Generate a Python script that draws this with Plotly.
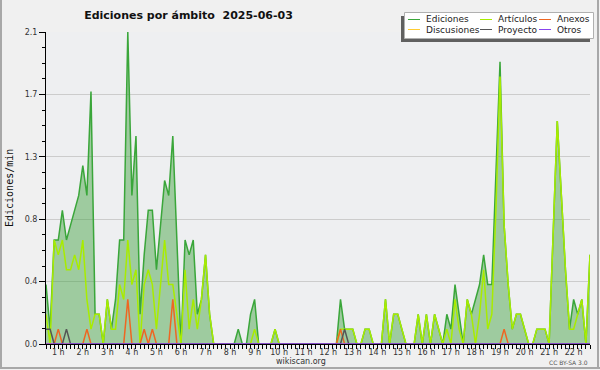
import plotly.graph_objects as go

# 10-minute bins, values in edits/min
ediciones = [0.4, 0.1, 0.7, 0.7, 0.9, 0.7, 0.8, 0.9, 1.0, 1.2, 1.0, 1.7, 0.2, 0.2, 0.0, 0.3,
             0.1, 0.3, 0.7, 0.7, 2.1, 1.0, 1.4, 0.2, 0.6, 0.9, 0.9, 0.5, 0.8, 1.1, 1.0, 1.4,
             0.7, 0.0, 0.7, 0.6, 0.7, 0.2, 0.3, 0.6, 0.2, 0.0, 0.0, 0.0, 0.0, 0.0, 0.0, 0.1,
             0.0, 0.0, 0.2, 0.3, 0.0, 0.0, 0.0, 0.0, 0.1, 0.0, 0.0, 0.0, 0.0, 0.0, 0.0, 0.0,
             0.0, 0.0, 0.0, 0.0, 0.0, 0.0, 0.0, 0.0, 0.3, 0.1, 0.1, 0.1, 0.0, 0.0, 0.1, 0.1,
             0.0, 0.0, 0.0, 0.3, 0.0, 0.2, 0.2, 0.1, 0.0, 0.0, 0.0, 0.2, 0.0, 0.2, 0.0, 0.2,
             0.1, 0.0, 0.2, 0.1, 0.4, 0.2, 0.0, 0.3, 0.2, 0.3, 0.4, 0.6, 0.4, 0.4, 1.1, 1.9,
             0.8, 0.4, 0.1, 0.2, 0.2, 0.1, 0.0, 0.0, 0.1, 0.1, 0.1, 0.0, 0.7, 1.5, 1.0, 0.5,
             0.1, 0.3, 0.2, 0.3, 0.0, 0.6]
articulos = [0.2, 0.0, 0.7, 0.6, 0.7, 0.5, 0.5, 0.6, 0.5, 0.7, 0.3, 0.1, 0.2, 0.2, 0.0, 0.3,
             0.1, 0.1, 0.4, 0.3, 0.7, 0.4, 0.5, 0.0, 0.4, 0.5, 0.4, 0.1, 0.4, 0.7, 0.4, 0.4,
             0.2, 0.0, 0.5, 0.1, 0.3, 0.1, 0.3, 0.6, 0.2, 0.0, 0.0, 0.0, 0.0, 0.0, 0.0, 0.0,
             0.0, 0.0, 0.0, 0.1, 0.0, 0.0, 0.0, 0.0, 0.1, 0.0, 0.0, 0.0, 0.0, 0.0, 0.0, 0.0,
             0.0, 0.0, 0.0, 0.0, 0.0, 0.0, 0.0, 0.0, 0.1, 0.1, 0.1, 0.1, 0.0, 0.0, 0.1, 0.1,
             0.0, 0.0, 0.0, 0.3, 0.0, 0.2, 0.2, 0.1, 0.0, 0.0, 0.0, 0.2, 0.0, 0.2, 0.0, 0.2,
             0.1, 0.0, 0.1, 0.0, 0.3, 0.1, 0.0, 0.3, 0.2, 0.0, 0.2, 0.5, 0.1, 0.2, 0.9, 1.8,
             0.8, 0.4, 0.1, 0.2, 0.2, 0.1, 0.0, 0.0, 0.1, 0.1, 0.1, 0.0, 0.7, 1.5, 1.0, 0.5,
             0.1, 0.1, 0.2, 0.3, 0.0, 0.6]
anexos = [0.0] * 134
for i, v in [(3, 0.1), (10, 0.1), (20, 0.3), (24, 0.1), (26, 0.1), (31, 0.3), (72, 0.1), (112, 0.1)]:
    anexos[i] = v
proyecto = [0.0] * 134
for i, v in [(0, 0.1), (1, 0.1), (5, 0.1), (73, 0.1)]:
    proyecto[i] = v
discusiones = [0.0] * 134
otros = [0.0] * 134

hours = [i / 6 for i in range(len(ediciones))]
hour_labels = [f"{h} h" for h in range(1, 23)]
hour_pos = [h - 0.5 for h in range(1, 23)]
y_ticks = [0, 0.42, 0.84, 1.26, 1.68, 2.1]
y_labels = ["0.0", "0.4", "0.8", "1.3", "1.7", "2.1"]

series = [
    ("Ediciones", ediciones, "#3aa63a"),
    ("Artículos", articulos, "#a8ec00"),
    ("Anexos", anexos, "#ee6622"),
    ("Discusiones", discusiones, "#ffcc33"),
    ("Proyecto", proyecto, "#555555"),
    ("Otros", otros, "#8844ee"),
]

fig = go.Figure()
fig.add_trace(go.Scatter(x=hours, y=ediciones, mode="lines", fill="tozeroy",
                         fillcolor="rgba(60,160,60,0.45)", line=dict(width=0),
                         showlegend=False, hoverinfo="skip"))
for name, vals, col in series:
    fig.add_trace(go.Scatter(x=hours, y=vals, mode="lines", name=name,
                             line=dict(color=col, width=1.5), showlegend=False))

W, H = 600, 370
L, R, T, B = 46, 10, 32, 26
pw, ph = W - L - R, H - T - B

def px(x):
    return (x - L) / pw

def py(y):
    return (H - B - y) / ph

shapes = []
annotations = []
# outer frame (left, right, bottom)
for x0, x1, y0, y1 in [(1, 1, -2, 369), (598, 598, -2, 369), (0, 600, 368, 368)]:
    shapes.append(dict(type="line", xref="paper", yref="paper", x0=px(x0), x1=px(x1), y0=py(y0), y1=py(y1),
                       line=dict(color="#a8a8a8", width=2), layer="above"))
# legend box with shadow
shapes.append(dict(type="rect", xref="paper", yref="paper", x0=px(401), x1=px(590), y0=py(42), y1=py(16),
                   fillcolor="#606060", line=dict(width=0), layer="above"))
shapes.append(dict(type="rect", xref="paper", yref="paper", x0=px(404.5), x1=px(593.5), y0=py(38.5), y1=py(12.5),
                   fillcolor="white", line=dict(color="#b0b0b0", width=1), layer="above"))
cols = [(408, 424), (480, 496), (539, 555)]
rows = [19.5, 29.5]
for k, (name, vals, col) in enumerate(series):
    cx, tx = cols[k % 3]
    ry = rows[k // 3]
    shapes.append(dict(type="line", xref="paper", yref="paper", x0=px(cx), x1=px(cx + 12), y0=py(ry), y1=py(ry),
                       line=dict(color=col, width=1), layer="above"))
    annotations.append(dict(xref="paper", yref="paper", x=px(tx), y=py(ry), text=name, showarrow=False,
                            xanchor="left", yanchor="middle",
                            font=dict(family="DejaVu Sans", size=9, color="#222")))

annotations.append(dict(xref="paper", yref="paper", x=px(9), y=0.5, text="Ediciones/min", textangle=-90,
                        showarrow=False, xanchor="center", yanchor="middle",
                        font=dict(family="DejaVu Sans Mono", size=10, color="#111")))
annotations.append(dict(xref="paper", yref="paper", x=px(300.5), y=py(361.5), text="wikiscan.org",
                        showarrow=False, xanchor="center", yanchor="middle",
                        font=dict(family="DejaVu Sans", size=8, color="#333")))
annotations.append(dict(xref="paper", yref="paper", x=px(590), y=py(362), text="CC BY-SA 3.0",
                        showarrow=False, xanchor="right", yanchor="middle",
                        font=dict(family="DejaVu Sans", size=6, color="#555")))

fig.update_layout(
    width=W, height=H,
    margin=dict(l=L, r=R, t=T, b=B),
    paper_bgcolor="#f0f0f0", plot_bgcolor="#eeeff1",
    title=dict(text="Ediciones por ámbito  2025-06-03", x=188.5 / W, xanchor="center",
               y=1 - 15 / H, yanchor="middle",
               font=dict(family="DejaVu Sans", size=11, color="#111", weight="bold")),
    shapes=shapes, annotations=annotations,
    showlegend=False,
)
fig.update_xaxes(range=[0, hours[-1]], tickvals=hour_pos, ticktext=hour_labels,
                 ticks="outside", ticklen=4, tickcolor="black", showgrid=False,
                 showline=True, linecolor="black", linewidth=1, zeroline=False,
                 ticklabelstandoff=-4,
                 tickfont=dict(family="DejaVu Sans", size=8, color="#333"),
                 minor=dict(dtick=1 / 6, tick0=0, ticks="outside", ticklen=4, tickcolor="black", showgrid=False))
fig.update_yaxes(range=[0, 2.1], tickvals=y_ticks, ticktext=y_labels,
                 ticks="outside", ticklen=6, tickcolor="black", showgrid=True, gridcolor="#cccccc",
                 showline=True, linecolor="black", linewidth=1, zeroline=False,
                 tickfont=dict(family="DejaVu Sans", size=8, color="#333"),
                 minor=dict(dtick=0.105, tick0=0, ticks="outside", ticklen=3, tickcolor="black", showgrid=False))

fig.write_html("out.html", config={"displayModeBar": False},
               post_script="document.body.style.margin='0';document.body.style.overflow='hidden';")
